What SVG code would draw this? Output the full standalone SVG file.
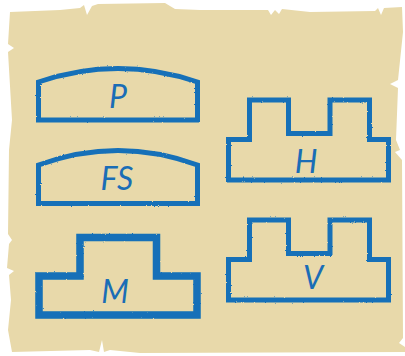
<svg xmlns="http://www.w3.org/2000/svg" width="405" height="356" viewBox="0 0 405 356">
<defs>
<style>
.shape{fill:none;stroke:#1570B8;stroke-width:5;stroke-linejoin:miter;filter:url(#rough)}
.thick{stroke-width:7.5}
.lbl{font-family:Lato,"DejaVu Sans",sans-serif;font-style:italic;font-weight:400;font-size:32px;fill:#1A6DB6;text-anchor:middle}
</style>
<filter id="rough" x="-5%" y="-5%" width="110%" height="110%">
<feTurbulence type="fractalNoise" baseFrequency="0.9" numOctaves="2" seed="3" result="n"/>
<feDisplacementMap in="SourceGraphic" in2="n" scale="2" xChannelSelector="R" yChannelSelector="G"/>
</filter>
</defs>
<path id="paper" fill="#E8D9AA" d="M10,12 L60,10 L80,8 L84,5 L87,15 L92,6 L98,4 L165,3 L175,9 L200,10 L268,10 L271,15 L275,10 L279,14 L282,9 L310,12 L375,11 L378,8 L381,15 L384,8 L402,7 L403,32 L398,80 L390,84 L398,88 L396,140 L400,150 L395,152 L402,160 L403,338 L399,343 L405,347 L405,352 L140,353 L110,350 L104,352 L102,340 L99,352 L90,350 L12,352 L8,330 L11,300 L9,275 L14,271 L7,268 L9,244 L12,240 L8,234 L9,150 L12,120 L8,52 L14,48 L8,44 Z"/>
<g id="node-P">
<path class="shape" d="M38.5,82 Q118,55 197.5,82 L197.5,120 L38.5,120 Z"/>
<text class="lbl" x="118" y="108">P</text>
</g>
<g id="node-FS">
<path class="shape" d="M38.5,165 Q118,136 197.5,165 L197.5,203.5 L38.5,203.5 Z"/>
<text class="lbl" x="117" y="190">FS</text>
</g>
<g id="node-H">
<path class="shape" d="M228.5,180 L228.5,139.5 L249.5,139.5 L249.5,100 L288.5,100 L288.5,133.5 L330,133.5 L330,100 L369.5,100 L369.5,139.5 L388.5,139.5 L388.5,180 Z"/>
<text class="lbl" x="306" y="173">H</text>
</g>
<g id="node-M">
<path class="shape thick" d="M39,315 L39,276 L80,276 L80,237.5 L156.5,237.5 L156.5,276 L197,276 L197,315 Z"/>
<text class="lbl" x="115" y="303">M</text>
</g>
<g id="node-V">
<path class="shape" d="M228.5,300 L228.5,259.5 L249.5,259.5 L249.5,220 L288.5,220 L288.5,253.5 L330,253.5 L330,220 L369.5,220 L369.5,259.5 L388.5,259.5 L388.5,300 Z"/>
<text class="lbl" x="313" y="289">V</text>
</g>
<g id="connectors"></g>
</svg>
